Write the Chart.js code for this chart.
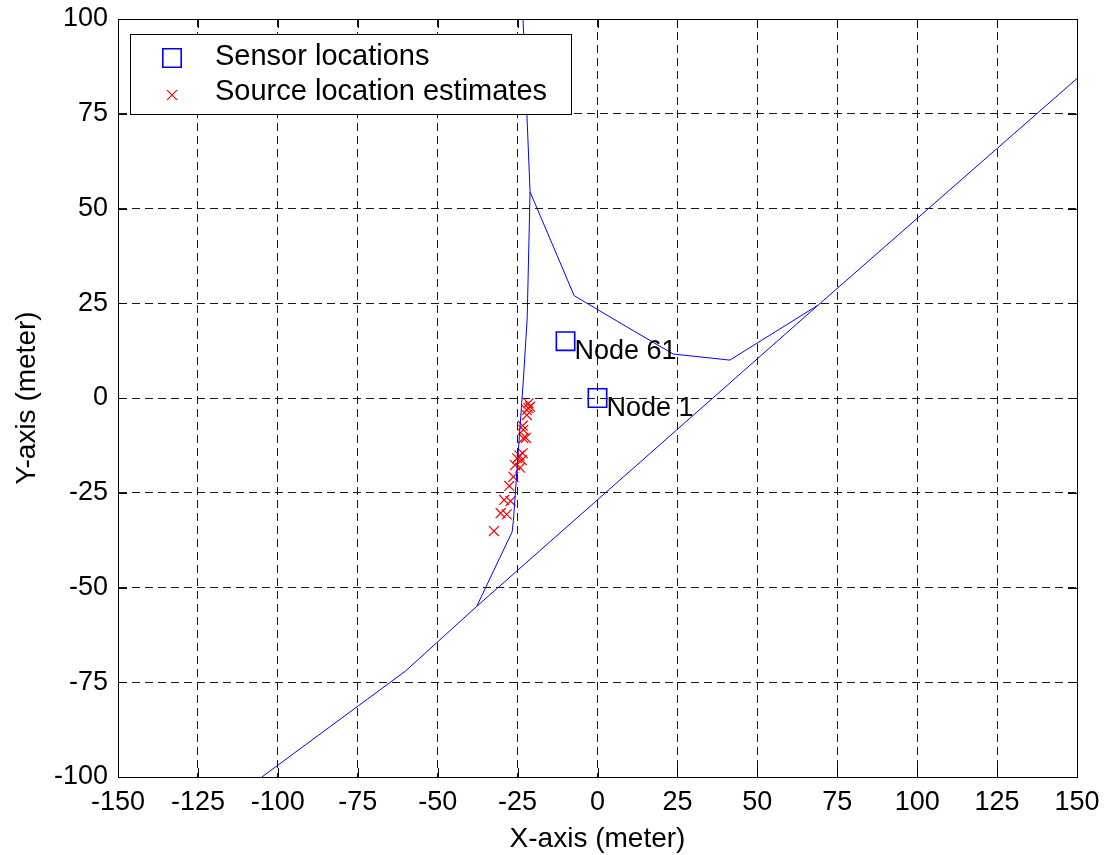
<!DOCTYPE html>
<html lang="en">
<head>
<meta charset="UTF-8">
<title>Sensor locations and source location estimates</title>
<script src="https://cdn.jsdelivr.net/npm/chart.js"></script>
<style>
  body { margin: 0; background: #fff; }
  #plot { display: block; }
</style>
</head>
<body>
<canvas id="plot" width="1105" height="855"></canvas>
<script>
// sensor nodes
const sensorX = [0, -10];
const sensorY = [0, 15];
const sensorNames = ['Node 1', 'Node 61'];

// source location estimates
const estX = [-32.4, -30.3, -28.4, -29.2, -27.2, -27.6, -26.3, -25.8, -24.2, -25.1, -23.7,
              -23.4, -24.4, -23.2, -22.4, -23.2, -23.4, -22.1, -22.1, -21.6, -21.1, -21.6];
const estY = [-35.1, -30.4, -30.7, -26.9, -27.2, -23.2, -20.8, -17.7, -18.4, -15.9, -16.4,
              -14.6, -15.2, -10.6, -10.5, -8.4, -7.3, -4.5, -3.2, -2.7, -2.3, -1.4];

// region boundary curves
const lowerX = [-105, -60, -37.8, 69, 150];
const lowerY = [-100, -72, -55, 24.5, 84.3];
const upperX = [-23.3, -21.1, -7.3, 9.1, 23.7, 41.4, 69];
const upperY = [100, 54.4, 27, 18.8, 11.6, 10, 24.5];
const innerX = [-21.1, -22, -23.2, -26.3, -26.7, -37.8];
const innerY = [54.4, 21, 4.7, -32.2, -35.3, -55];

const xTicks = [-150, -125, -100, -75, -50, -25, 0, 25, 50, 75, 100, 125, 150];
const yTicks = [-100, -75, -50, -25, 0, 25, 50, 75, 100];

const FONT = '"Liberation Sans", Arial, Helvetica, sans-serif';
const BLUE = '#0000ff';
const RED = '#ff0000';

const pts = (xs, ys) => xs.map((x, i) => ({ x: x, y: ys[i] }));

function curve(xs, ys) {
    return {
        data: pts(xs, ys),
        showLine: true,
        borderColor: BLUE,
        borderWidth: 1,
        pointRadius: 0,
        tension: 0,
        fill: false
    };
}

function markerPath(ctx, style, r, x, y) {
    const s = Math.SQRT1_2 * r;
    ctx.beginPath();
    if (style === 'rect') {
        ctx.rect(x - s, y - s, 2 * s, 2 * s);
    } else {
        ctx.moveTo(x - s, y - s); ctx.lineTo(x + s, y + s);
        ctx.moveTo(x - s, y + s); ctx.lineTo(x + s, y - s);
    }
    ctx.stroke();
}

// box and inward tick marks, like a matlab axes
const frame = {
    id: 'frame',
    afterDatasetsDraw(chart) {
        const { ctx, chartArea: a, scales } = chart;
        const len = 9;
        ctx.save();
        ctx.strokeStyle = '#000';
        ctx.lineWidth = 1;
        ctx.beginPath();
        scales.x.ticks.forEach(t => {
            const px = Math.round(scales.x.getPixelForValue(t.value)) + 0.5;
            ctx.moveTo(px, a.bottom); ctx.lineTo(px, a.bottom - len);
            ctx.moveTo(px, a.top); ctx.lineTo(px, a.top + len);
        });
        scales.y.ticks.forEach(t => {
            const py = Math.round(scales.y.getPixelForValue(t.value)) + 0.5;
            ctx.moveTo(a.left, py); ctx.lineTo(a.left + len, py);
            ctx.moveTo(a.right, py); ctx.lineTo(a.right - len, py);
        });
        ctx.stroke();
        ctx.strokeRect(a.left + 0.5, a.top + 0.5, a.right - a.left, a.bottom - a.top);
        ctx.restore();
    }
};

// text next to each sensor square
const nodeLabels = {
    id: 'nodeLabels',
    afterDatasetsDraw(chart) {
        const idx = chart.data.datasets.findIndex(d => d.names);
        const meta = chart.getDatasetMeta(idx);
        const names = chart.data.datasets[idx].names;
        const ctx = chart.ctx;
        ctx.save();
        ctx.font = '27px ' + FONT;
        ctx.fillStyle = '#000';
        ctx.textBaseline = 'alphabetic';
        meta.data.forEach((p, i) => {
            ctx.fillText(names[i], p.x + 9, p.y + 18);
        });
        ctx.restore();
    }
};

const legendBox = {
    id: 'legendBox',
    afterDraw(chart) {
        const { ctx, chartArea: a } = chart;
        const items = chart.data.datasets.filter(d => d.inLegend);
        ctx.save();
        ctx.font = '29px ' + FONT;
        const textW = Math.max(...items.map(d => ctx.measureText(d.label).width));
        const left = Math.round(a.left) + 12;
        const top = Math.round(a.top) + 15;
        const w = Math.round(85 + textW + 24);
        const h = 80;
        ctx.fillStyle = '#fff';
        ctx.fillRect(left, top, w, h);
        ctx.strokeStyle = '#000';
        ctx.lineWidth = 1;
        ctx.strokeRect(left + 0.5, top + 0.5, w, h);
        items.forEach((d, i) => {
            ctx.strokeStyle = d.borderColor;
            ctx.lineWidth = d.borderWidth;
            markerPath(ctx, d.pointStyle, d.pointRadius, left + 42, top + 24 + i * 37);
            ctx.fillStyle = '#000';
            ctx.textBaseline = 'alphabetic';
            ctx.fillText(d.label, left + 85, top + 31 + i * 35);
        });
        ctx.restore();
    }
};

const tickFont = { family: FONT, size: 27 };
const titleFont = { family: FONT, size: 28, lineHeight: 1 };
const gridOpts = { color: '#1a1a1a', lineWidth: 1, drawTicks: false };

new Chart(document.getElementById('plot'), {
    type: 'scatter',
    data: {
        datasets: [
            curve(lowerX, lowerY),
            curve(upperX, upperY),
            curve(innerX, innerY),
            {
                label: 'Sensor locations',
                data: pts(sensorX, sensorY),
                names: sensorNames,
                inLegend: true,
                pointStyle: 'rect',
                pointRadius: 13,
                borderColor: BLUE,
                backgroundColor: 'rgba(0,0,0,0)',
                borderWidth: 1.6
            },
            {
                label: 'Source location estimates',
                data: pts(estX, estY),
                inLegend: true,
                pointStyle: 'crossRot',
                pointRadius: 7,
                borderColor: RED,
                backgroundColor: RED,
                borderWidth: 1.2
            }
        ]
    },
    options: {
        responsive: false,
        animation: false,
        events: [],
        devicePixelRatio: 1,
        layout: { padding: { top: 19, right: 28, left: 0, bottom: 0 } },
        plugins: {
            legend: { display: false },
            tooltip: { enabled: false }
        },
        scales: {
            x: {
                type: 'linear',
                min: -150,
                max: 150,
                afterBuildTicks: s => { s.ticks = xTicks.map(v => ({ value: v })); },
                afterFit: s => {
                    s.height = 78;
                    s.paddingLeft = 0;
                    s.paddingRight = 0;
                },
                ticks: {
                    font: tickFont,
                    color: '#000',
                    padding: 9,
                    maxRotation: 0,
                    autoSkip: false,
                    callback: v => String(v)
                },
                grid: gridOpts,
                border: { display: true, color: '#000', dash: [8, 5] },
                title: {
                    display: true,
                    text: 'X-axis (meter)',
                    font: titleFont,
                    color: '#000',
                    padding: { top: 0, bottom: 2 }
                }
            },
            y: {
                type: 'linear',
                min: -100,
                max: 100,
                afterBuildTicks: s => { s.ticks = yTicks.map(v => ({ value: v })); },
                afterFit: s => {
                    s.width = 118;
                    s.paddingTop = 0;
                    s.paddingBottom = 0;
                },
                ticks: {
                    font: tickFont,
                    color: '#000',
                    padding: 10,
                    autoSkip: false,
                    callback: v => String(v)
                },
                grid: gridOpts,
                border: { display: true, color: '#000', dash: [8, 5] },
                title: {
                    display: true,
                    text: 'Y-axis (meter)',
                    font: titleFont,
                    color: '#000',
                    padding: { top: 13, bottom: 0 }
                }
            }
        }
    },
    plugins: [frame, nodeLabels, legendBox]
});
</script>
</body>
</html>
